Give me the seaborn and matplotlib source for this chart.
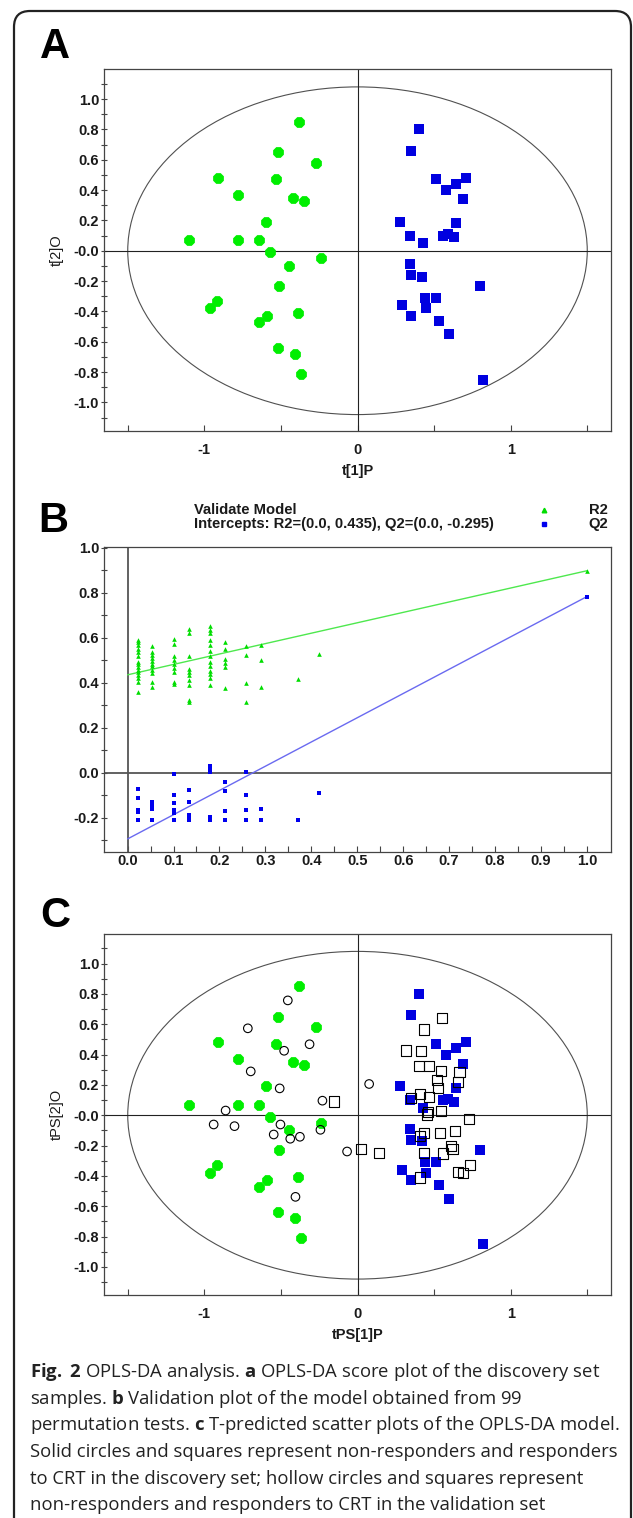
import numpy as np
import pandas as pd
import matplotlib
matplotlib.use("Agg")
import matplotlib.pyplot as plt
import seaborn as sns
from matplotlib.patches import Ellipse, FancyBboxPatch
from matplotlib.lines import Line2D
from matplotlib.transforms import IdentityTransform

# ---------------- data ----------------
# Panel A / C : discovery set (solid)
green_x = [-0.38, -0.52, -0.27, -0.91, -0.53, -0.78, -0.42, -0.35, -0.60, -1.10, -0.78, -0.64,
           -0.57, -0.24, -0.45, -0.51, -0.92, -0.96, -0.59, -0.64, -0.39, -0.52, -0.41, -0.37]
green_y = [0.85, 0.65, 0.58, 0.48, 0.47, 0.37, 0.35, 0.33, 0.19, 0.07, 0.07, 0.07,
           -0.01, -0.05, -0.10, -0.23, -0.33, -0.38, -0.43, -0.47, -0.41, -0.64, -0.68, -0.81]
blue_x = [0.40, 0.35, 0.51, 0.71, 0.64, 0.58, 0.69, 0.28, 0.64, 0.34, 0.56, 0.63, 0.59,
          0.43, 0.34, 0.35, 0.42, 0.80, 0.44, 0.51, 0.29, 0.45, 0.35, 0.53, 0.60, 0.82]
blue_y = [0.80, 0.66, 0.47, 0.48, 0.44, 0.40, 0.34, 0.19, 0.18, 0.10, 0.10, 0.09, 0.11,
          0.05, -0.09, -0.16, -0.17, -0.23, -0.31, -0.31, -0.36, -0.38, -0.43, -0.46, -0.55, -0.85]
# Panel C : validation set (hollow)
hollow_circle_x = [-0.455, -0.716, -0.313, -0.479, -0.697, -0.508, 0.076, -0.229, -0.861, -0.939,
                   -0.803, -0.503, -0.547, -0.439, -0.376, -0.242, -0.068, -0.405]
hollow_circle_y = [0.757, 0.573, 0.468, 0.425, 0.289, 0.177, 0.206, 0.096, 0.031, -0.061,
                   -0.072, -0.061, -0.127, -0.155, -0.142, -0.096, -0.239, -0.538]
hollow_square_x = [0.553, 0.434, 0.318, 0.413, 0.403, 0.468, 0.547, 0.666, 0.521, 0.658, 0.526,
                   0.408, 0.350, 0.468, -0.153, 0.461, 0.545, 0.455, 0.726, 0.434, 0.539, 0.639,
                   0.408, 0.613, 0.620, 0.024, 0.139, 0.434, 0.558, 0.732, 0.658, 0.689, 0.408]
hollow_square_y = [0.639, 0.565, 0.427, 0.422, 0.326, 0.322, 0.291, 0.287, 0.230, 0.217, 0.179,
                   0.142, 0.116, 0.120, 0.090, 0.020, 0.026, 0.005, -0.026, -0.116, -0.116, -0.105,
                   -0.138, -0.203, -0.225, -0.221, -0.247, -0.247, -0.252, -0.330, -0.372, -0.379, -0.411]
ellipse_a, ellipse_b = 1.5, 1.08

score_xticks = [-1, 0, 1]
score_xticklabels = ["-1", "0", "1"]
score_xminor = [-1.5, -0.5, 0.5, 1.5]
score_yticks = [1.0, 0.8, 0.6, 0.4, 0.2, 0.0, -0.2, -0.4, -0.6, -0.8, -1.0]
score_yticklabels = ["1.0", "0.8", "0.6", "0.4", "0.2", "-0.0", "-0.2", "-0.4", "-0.6", "-0.8", "-1.0"]
score_yminor = [1.1, 0.9, 0.7, 0.5, 0.3, 0.1, -0.1, -0.3, -0.5, -0.7, -0.9, -1.1]

# Panel B : permutation test
perm_corr = [0.022, 0.054, 0.100, 0.133, 0.179, 0.213, 0.258, 0.291, 0.371, 0.417]
r2_by_col = [
    [0.592, 0.582, 0.567, 0.552, 0.537, 0.518, 0.493, 0.482, 0.470, 0.458, 0.448, 0.433, 0.423, 0.403, 0.359],
    [0.564, 0.537, 0.522, 0.510, 0.497, 0.485, 0.473, 0.458, 0.443, 0.403, 0.381],
    [0.594, 0.571, 0.518, 0.500, 0.485, 0.467, 0.448, 0.403, 0.396],
    [0.638, 0.619, 0.518, 0.461, 0.448, 0.433, 0.411, 0.388, 0.321, 0.314],
    [0.652, 0.634, 0.619, 0.592, 0.567, 0.542, 0.518, 0.493, 0.473, 0.451, 0.440, 0.423, 0.388],
    [0.579, 0.548, 0.507, 0.488, 0.470, 0.378],
    [0.562, 0.521, 0.400, 0.314],
    [0.568, 0.499, 0.381],
    [0.418],
    [0.527],
]
q2_by_col = [
    [-0.074, -0.115, -0.165, -0.177, -0.210],
    [-0.132, -0.147, -0.162, -0.210],
    [-0.004, -0.100, -0.135, -0.165, -0.180, -0.210],
    [-0.077, -0.132, -0.188, -0.202, -0.211],
    [0.031, 0.021, 0.001, -0.199, -0.211],
    [-0.040, -0.080, -0.170, -0.210],
    [0.004, -0.100, -0.167, -0.210],
    [-0.162, -0.210],
    [-0.210],
    [-0.092],
]
orig_corr = 1.0
r2_orig, q2_orig = 0.898, 0.783
r2_intercept, q2_intercept = 0.435, -0.295
b_xticks = [0.0, 0.1, 0.2, 0.3, 0.4, 0.5, 0.6, 0.7, 0.8, 0.9, 1.0]
b_xticklabels = ["0.0", "0.1", "0.2", "0.3", "0.4", "0.5", "0.6", "0.7", "0.8", "0.9", "1.0"]
b_xminor = [0.05, 0.15, 0.25, 0.35, 0.45, 0.55, 0.65, 0.75, 0.85, 0.95]
b_yticks = [1.0, 0.8, 0.6, 0.4, 0.2, 0.0, -0.2]
b_yticklabels = ["1.0", "0.8", "0.6", "0.4", "0.2", "0.0", "-0.2"]
b_yminor = [0.9, 0.7, 0.5, 0.3, 0.1, -0.1, -0.3]

caption_lines = [
    r"$\mathbf{Fig.}$ $\mathbf{2}$ OPLS-DA analysis. $\mathbf{a}$ OPLS-DA score plot of the discovery set",
    r"samples. $\mathbf{b}$ Validation plot of the model obtained from 99",
    r"permutation tests. $\mathbf{c}$ T-predicted scatter plots of the OPLS-DA model.",
    "Solid circles and squares represent non-responders and responders",
    "to CRT in the discovery set; hollow circles and squares represent",
    "non-responders and responders to CRT in the validation set",
]

# ---------------- style ----------------
sns.set_style("ticks")
plt.rcParams["font.family"] = ["Liberation Sans", "DejaVu Sans"]
plt.rcParams["mathtext.fontset"] = "custom"
plt.rcParams["mathtext.rm"] = "Open Sans"
plt.rcParams["mathtext.bf"] = "Open Sans:bold"

GREEN = "#00ee00"
BLUE = "#0000e0"
TXT = "#1a1a1a"
SPINE = "#444444"
TICKSIZE = 10.5

W, H = 633, 1518
fig = plt.figure(figsize=(W / 100, H / 100), dpi=100)
fig.patch.set_facecolor("white")


def px_axes(l, t, r, b):
    return fig.add_axes([l / W, 1 - b / H, (r - l) / W, (b - t) / H])


def style_axes(ax, xpad):
    for sp in ax.spines.values():
        sp.set_color(SPINE)
        sp.set_linewidth(0.9)
    ax.tick_params(axis="y", which="both", direction="inout", length=5, width=0.8,
                   pad=1, labelsize=TICKSIZE, color=SPINE, labelcolor=TXT)
    ax.tick_params(axis="x", which="both", direction="in", length=4, width=0.8,
                   pad=xpad, labelsize=TICKSIZE, color=SPINE, labelcolor=TXT)
    ax.tick_params(which="both", top=False, right=False)


def score_panel(ax, xlabel, ylabel, hollow):
    ax.set_xlim(-1.655, 1.655)
    ax.set_ylim(-1.185, 1.198)
    ax.add_patch(Ellipse((0, 0), 2 * ellipse_a, 2 * ellipse_b, fill=False,
                         ec="#505050", lw=0.8, zorder=1))
    ax.axhline(0, color="#222222", lw=0.8, zorder=1)
    ax.axvline(0, color="#222222", lw=0.8, zorder=1)
    sns.scatterplot(x=green_x, y=green_y, marker="8", s=70, color=GREEN,
                    linewidth=0, ax=ax, zorder=3)
    sns.scatterplot(x=blue_x, y=blue_y, marker="s", s=62, color=BLUE,
                    linewidth=0, ax=ax, zorder=3)
    if hollow:
        sns.scatterplot(x=hollow_circle_x, y=hollow_circle_y, marker="o", s=38,
                        color="black", linewidth=0.8, ax=ax, zorder=4)
        c = ax.collections[-1]
        c.set_facecolor("none")
        c.set_edgecolor("black")
        sns.scatterplot(x=hollow_square_x, y=hollow_square_y, marker="s", s=54,
                        color="black", linewidth=0.8, ax=ax, zorder=4)
        c = ax.collections[-1]
        c.set_facecolor("none")
        c.set_edgecolor("black")
    ax.set_xticks(score_xticks)
    ax.set_xticklabels(score_xticklabels, fontweight="bold")
    ax.set_xticks(score_xminor, minor=True)
    ax.set_yticks(score_yticks)
    ax.set_yticklabels(score_yticklabels, fontweight="bold")
    ax.set_yticks(score_yminor, minor=True)
    style_axes(ax, xpad=9)
    ax.set_xlabel(xlabel, fontsize=10.5, fontweight="bold", color=TXT, labelpad=5)
    ax.set_ylabel(ylabel, fontsize=10.5, color=TXT, labelpad=7)


# ---------------- panel A ----------------
axA = px_axes(104, 69, 611, 430.5)
score_panel(axA, "t[1]P", "t[2]O", hollow=False)

# ---------------- panel B ----------------
axB = px_axes(104, 546.7, 611, 851.5)
rows = []
for cx, r2s, q2s in zip(perm_corr, r2_by_col, q2_by_col):
    for v in r2s:
        rows.append({"corr": cx, "value": v, "kind": "R2"})
    for v in q2s:
        rows.append({"corr": cx, "value": v, "kind": "Q2"})
rows.append({"corr": orig_corr, "value": r2_orig, "kind": "R2"})
rows.append({"corr": orig_corr, "value": q2_orig, "kind": "Q2"})
dfB = pd.DataFrame(rows)

axB.set_xlim(-0.0514, 1.0525)
axB.set_ylim(-0.351, 1.005)
axB.axhline(0, color="#555555", lw=1.3, zorder=1)
axB.axvline(0, color="#555555", lw=1.3, zorder=1)
sns.lineplot(x=[0.0, orig_corr], y=[r2_intercept, r2_orig], color="#4ee84e",
             lw=1.0, ax=axB, zorder=2, estimator=None)
sns.lineplot(x=[0.0, orig_corr], y=[q2_intercept, q2_orig], color="#6a6af0",
             lw=1.0, ax=axB, zorder=2, estimator=None)
sns.scatterplot(data=dfB[dfB.kind == "R2"], x="corr", y="value", marker="^", s=11,
                color="#00dd00", linewidth=0, ax=axB, zorder=3)
sns.scatterplot(data=dfB[dfB.kind == "Q2"], x="corr", y="value", marker="s", s=9,
                color="#0000ee", linewidth=0, ax=axB, zorder=3)
axB.set_xticks(b_xticks)
axB.set_xticklabels(b_xticklabels, fontweight="bold")
axB.set_xticks(b_xminor, minor=True)
axB.set_yticks(b_yticks)
axB.set_yticklabels(b_yticklabels, fontweight="bold")
axB.set_yticks(b_yminor, minor=True)
style_axes(axB, xpad=2)
axB.set_xlabel("")
axB.set_ylabel("")

# title and legend of panel B
TS = 10.6
fig.text(194 / W, 1 - 514 / H, "Validate Model", fontsize=TS, fontweight="bold",
         color=TXT, ha="left", va="baseline")
fig.text(194 / W, 1 - 528.5 / H, "Intercepts: R2=(0.0, 0.435), Q2=(0.0, -0.295)",
         fontsize=TS, fontweight="bold", color=TXT, ha="left", va="baseline")
fig.text(608 / W, 1 - 514 / H, "R2", fontsize=TS, fontweight="bold", color=TXT,
         ha="right", va="baseline")
fig.text(608 / W, 1 - 528.5 / H, "Q2", fontsize=TS, fontweight="bold", color=TXT,
         ha="right", va="baseline")
fig.add_artist(Line2D([544 / W], [1 - 509.5 / H], marker="^", markersize=3.3, color="#00dd00",
                      linestyle="none", transform=fig.transFigure))
fig.add_artist(Line2D([544 / W], [1 - 524 / H], marker="s", markersize=2.9, color="#0000ee",
                      linestyle="none", transform=fig.transFigure))

# ---------------- panel C ----------------
axC = px_axes(104, 933.5, 611, 1295)
score_panel(axC, "tPS[1]P", "tPS[2]O", hollow=True)

# ---------------- panel letters ----------------
for letter, x, yb in [("A", 40, 58), ("B", 38, 532.5), ("C", 40, 927)]:
    fig.text(x / W, 1 - yb / H, letter, fontsize=30, fontweight="bold", color="black",
             ha="left", va="baseline")

# ---------------- caption ----------------
cap_base = [1377, 1403.5, 1430, 1457, 1483.5, 1510]
cap_texts = []
for line, yb in zip(caption_lines, cap_base):
    t = fig.text(30 / W, 1 - yb / H, line, fontsize=12, color="#222222",
                 family="Open Sans", ha="left", va="baseline")
    cap_texts.append(t)
renderer = fig.canvas.get_renderer()
w3 = cap_texts[2].get_window_extent(renderer).width
scale = 588.0 / w3
for t in cap_texts:
    t.set_fontsize(12 * scale)

# ---------------- frame ----------------
frame = FancyBboxPatch((14, -20), 617, H - 11 + 20, boxstyle="round,pad=0,rounding_size=16",
                       fill=False, ec="#222222", lw=1.6, transform=IdentityTransform())
fig.patches.append(frame)

fig.savefig("out.png", dpi=100)
